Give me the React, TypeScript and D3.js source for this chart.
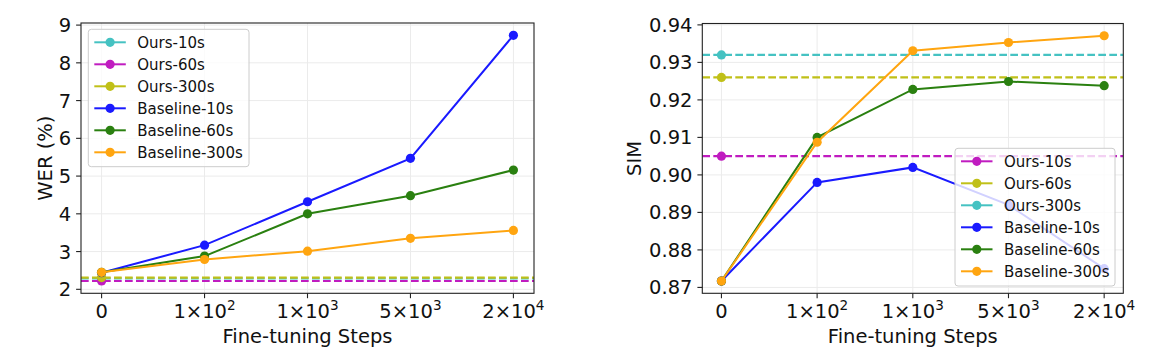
import React, { useEffect, useRef } from 'react';
import * as d3 from 'd3';

// x categories (fine-tuning steps), label split into base + exponent
const stepBase = ['0', '1×10', '1×10', '5×10', '2×10'];
const stepExp = ['', '2', '3', '3', '4'];

const seriesNames = ['Ours-10s', 'Ours-60s', 'Ours-300s', 'Baseline-10s', 'Baseline-60s', 'Baseline-300s'];

// WER (%)
const werOurs = [2.29, 2.22, 2.31]; // 10s, 60s, 300s
const werBaseline10 = [2.44, 3.17, 4.32, 5.47, 8.73];
const werBaseline60 = [2.45, 2.88, 4.0, 4.48, 5.16];
const werBaseline300 = [2.45, 2.79, 3.01, 3.35, 3.56];
const werTicks = [2, 3, 4, 5, 6, 7, 8, 9];

// SIM
const simOurs = [0.905, 0.926, 0.932]; // 10s, 60s, 300s
const simBaseline10 = [0.8717, 0.898, 0.902, 0.892, 0.875];
const simBaseline60 = [0.8717, 0.91, 0.9228, 0.9249, 0.9238];
const simBaseline300 = [0.8717, 0.9087, 0.9331, 0.9353, 0.9371];
const simTicks = [0.87, 0.88, 0.89, 0.9, 0.91, 0.92, 0.93, 0.94];

const CYAN = '#45c2c2';
const MAGENTA = '#c01cc0';
const YELLOW = '#c0c018';
const BLUE = '#1a1aff';
const GREEN = '#2a8010';
const ORANGE = '#ffa510';

const FONT = '"DejaVu Sans", sans-serif';

function drawPanel(svg, opts) {
  const { left, right, top, bottom, ours, baselines, oursColors, ticks, fmt, ylabel, ylabelX, legend } = opts;
  const baseColors = [BLUE, GREEN, ORANGE];

  const all = [...ours, ...baselines.flat()];
  const lo = d3.min(all);
  const hi = d3.max(all);
  const pad = (hi - lo) * 0.05;

  const x = d3.scaleLinear().domain([-0.2, stepBase.length - 1 + 0.2]).range([left, right]);
  const y = d3.scaleLinear().domain([lo - pad, hi + pad]).range([bottom, top]);

  const g = svg.append('g');

  // grid
  g.selectAll('.vgrid').data(stepBase).enter().append('line')
    .attr('x1', (d, i) => x(i)).attr('x2', (d, i) => x(i))
    .attr('y1', top).attr('y2', bottom)
    .attr('stroke', '#ebebeb').attr('stroke-width', 1);
  g.selectAll('.hgrid').data(ticks).enter().append('line')
    .attr('x1', left).attr('x2', right)
    .attr('y1', (d) => y(d)).attr('y2', (d) => y(d))
    .attr('stroke', '#ebebeb').attr('stroke-width', 1);

  const clip = 'clip' + Math.round(left);
  svg.append('clipPath').attr('id', clip).append('rect')
    .attr('x', left).attr('y', top).attr('width', right - left).attr('height', bottom - top);

  const plot = g.append('g').attr('clip-path', `url(#${clip})`);

  // Ours: dashed horizontal lines with marker at step 0
  ours.forEach((v, k) => {
    plot.append('line')
      .attr('x1', left).attr('x2', right)
      .attr('y1', y(v)).attr('y2', y(v))
      .attr('stroke', oursColors[k]).attr('stroke-width', 2.1)
      .attr('stroke-dasharray', '7.7,3.3');
    plot.append('circle')
      .attr('cx', x(0)).attr('cy', y(v)).attr('r', 4.6)
      .attr('fill', oursColors[k]);
  });

  const line = d3.line().x((d, i) => x(i)).y((d) => y(d));
  baselines.forEach((arr, k) => {
    plot.append('path').datum(arr)
      .attr('d', line)
      .attr('fill', 'none').attr('stroke', baseColors[k]).attr('stroke-width', 2);
    plot.selectAll('.m' + k).data(arr).enter().append('circle')
      .attr('cx', (d, i) => x(i)).attr('cy', (d) => y(d)).attr('r', 4.6)
      .attr('fill', baseColors[k]);
  });

  // frame
  g.append('rect')
    .attr('x', left).attr('y', top).attr('width', right - left).attr('height', bottom - top)
    .attr('fill', 'none').attr('stroke', '#222').attr('stroke-width', 1.1);

  // x ticks
  stepBase.forEach((b, i) => {
    g.append('line')
      .attr('x1', x(i)).attr('x2', x(i)).attr('y1', bottom).attr('y2', bottom + 4.9)
      .attr('stroke', '#222').attr('stroke-width', 1.1);
    const t = g.append('text')
      .attr('x', x(i)).attr('y', 318).attr('text-anchor', 'middle')
      .attr('font-family', FONT).attr('font-size', 19.5).attr('fill', '#111');
    t.append('tspan').text(b);
    if (stepExp[i]) {
      t.append('tspan').attr('font-size', 13.6).attr('dy', -8.5).text(stepExp[i]);
    }
  });

  // y ticks
  ticks.forEach((v) => {
    g.append('line')
      .attr('x1', left - 4.9).attr('x2', left).attr('y1', y(v)).attr('y2', y(v))
      .attr('stroke', '#222').attr('stroke-width', 1.1);
    g.append('text')
      .attr('x', left - 9.8).attr('y', y(v)).attr('dy', '0.36em')
      .attr('text-anchor', 'end')
      .attr('font-family', FONT).attr('font-size', 19.5).attr('fill', '#111')
      .text(fmt(v));
  });

  // axis labels
  g.append('text')
    .attr('x', (left + right) / 2).attr('y', 342.5).attr('text-anchor', 'middle')
    .attr('font-family', FONT).attr('font-size', 19.5).attr('fill', '#111')
    .text('Fine-tuning Steps');
  g.append('text')
    .attr('transform', `translate(${ylabelX},${(top + bottom) / 2}) rotate(-90)`)
    .attr('text-anchor', 'middle')
    .attr('font-family', FONT).attr('font-size', 19.5).attr('fill', '#111')
    .text(ylabel);

  // legend
  const colors = [...oursColors, ...baseColors];
  const lg = g.append('g');
  lg.append('rect')
    .attr('x', legend.x).attr('y', legend.y).attr('width', legend.w).attr('height', legend.h)
    .attr('rx', 3).attr('fill', 'white').attr('fill-opacity', 0.8)
    .attr('stroke', '#cccccc').attr('stroke-width', 1);
  seriesNames.forEach((name, i) => {
    const ry = legend.y + 13 + i * 22;
    lg.append('line')
      .attr('x1', legend.x + 6).attr('x2', legend.x + 37.5).attr('y1', ry).attr('y2', ry)
      .attr('stroke', colors[i]).attr('stroke-width', 2);
    lg.append('circle')
      .attr('cx', legend.x + 21.8).attr('cy', ry).attr('r', 4.6).attr('fill', colors[i]);
    lg.append('text')
      .attr('x', legend.x + 49).attr('y', ry).attr('dy', '0.36em')
      .attr('font-family', FONT).attr('font-size', 15).attr('fill', '#111')
      .text(name);
  });
}

const App = () => {
  const ref = useRef(null);

  useEffect(() => {
    document.body.style.margin = '0';
    const svg = d3.select(ref.current);
    svg.selectAll('*').remove();

    drawPanel(svg, {
      left: 81, right: 534, top: 23, bottom: 293.3,
      ours: werOurs,
      oursColors: [CYAN, MAGENTA, YELLOW],
      baselines: [werBaseline10, werBaseline60, werBaseline300],
      ticks: werTicks,
      fmt: (v) => String(v),
      ylabel: 'WER (%)',
      ylabelX: 51.5,
      legend: { x: 88.3, y: 29.3, w: 160.7, h: 137.4 },
    });

    drawPanel(svg, {
      left: 702.3, right: 1123.3, top: 23.5, bottom: 293.3,
      ours: simOurs,
      oursColors: [MAGENTA, YELLOW, CYAN],
      baselines: [simBaseline10, simBaseline60, simBaseline300],
      ticks: simTicks,
      fmt: d3.format('.2f'),
      ylabel: 'SIM',
      ylabelX: 640.5,
      legend: { x: 955, y: 148.3, w: 160, h: 137.7 },
    });
  }, []);

  return <svg ref={ref} width={1151} height={362} style={{ display: 'block' }}></svg>;
};

export default App;
